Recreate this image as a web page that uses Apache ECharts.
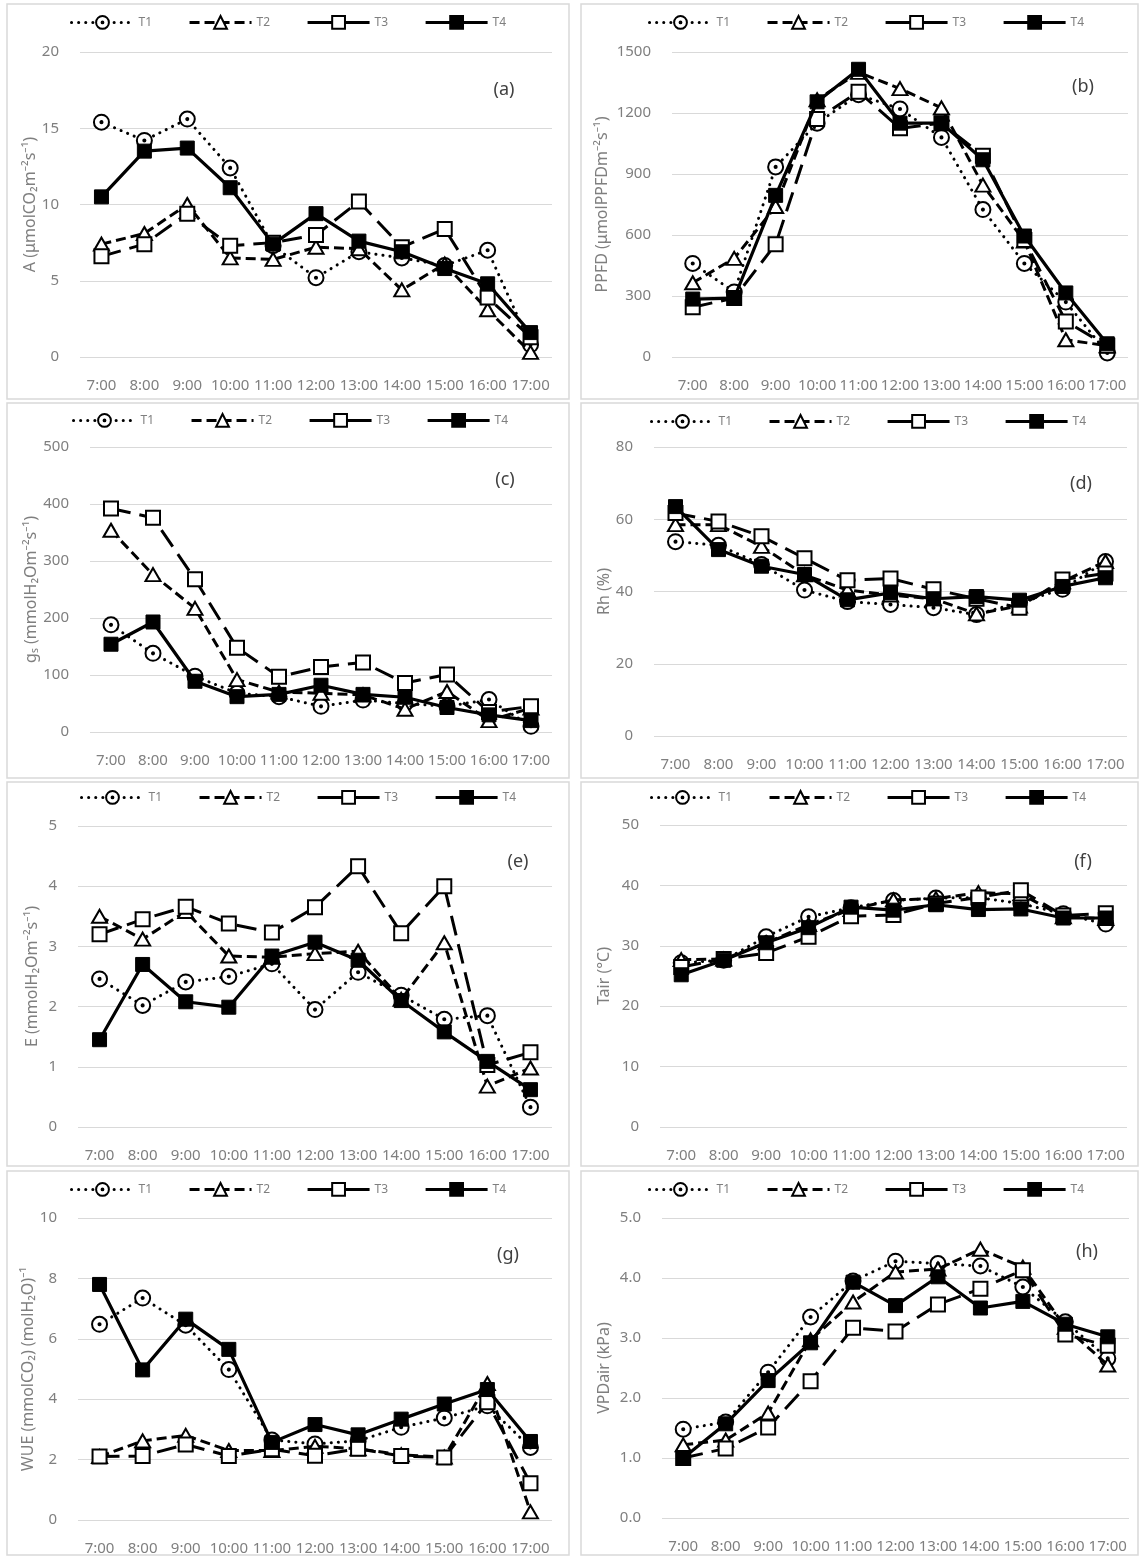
<!DOCTYPE html>
<html>
<head>
<meta charset="utf-8">
<title>Diurnal gas exchange and microclimate, T1–T4</title>
<script src="https://cdn.jsdelivr.net/npm/echarts@6.0.0/dist/echarts.min.js"></script>
<style>
  html, body { margin: 0; padding: 0; background: #fff; }
  #chart { width: 1141px; height: 1557px; }
</style>
</head>
<body>
<div id="chart"></div>
<script>
// Hours of measurement (x axis of every panel)
const hours = ['7:00', '8:00', '9:00', '10:00', '11:00', '12:00', '13:00', '14:00', '15:00', '16:00', '17:00'];
const treatments = ['T1', 'T2', 'T3', 'T4'];

// (a) Net photosynthesis A
const aT1 = [15.4, 14.2, 15.6, 12.4, 7.3, 5.2, 6.9, 6.5, 6.0, 7.0, 0.8];
const aT2 = [7.4, 8.1, 10.0, 6.5, 6.4, 7.2, 7.1, 4.4, 6.1, 3.1, 0.3];
const aT3 = [6.6, 7.4, 9.4, 7.3, 7.5, 8.0, 10.2, 7.2, 8.4, 3.9, 1.3];
const aT4 = [10.5, 13.5, 13.7, 11.1, 7.4, 9.4, 7.6, 6.9, 5.8, 4.8, 1.6];

// (b) PPFD
const bT1 = [460, 320, 935, 1150, 1290, 1220, 1080, 725, 460, 270, 20];
const bT2 = [365, 485, 740, 1265, 1400, 1320, 1225, 845, 570, 85, 55];
const bT3 = [245, 290, 555, 1170, 1305, 1125, 1150, 990, 575, 175, 55];
const bT4 = [285, 290, 795, 1255, 1415, 1150, 1150, 970, 595, 315, 65];

// (c) Stomatal conductance gs
const cT1 = [188, 138, 98, 68, 62, 45, 56, 50, 45, 57, 10];
const cT2 = [354, 276, 217, 92, 70, 68, 65, 40, 71, 20, 42];
const cT3 = [392, 376, 268, 148, 97, 114, 122, 86, 101, 35, 45];
const cT4 = [154, 193, 89, 62, 66, 82, 66, 61, 43, 30, 20];

// (d) Relative humidity
const dT1 = [53.8, 52.8, 47.5, 40.4, 37.2, 36.4, 35.5, 33.6, 37.0, 40.6, 48.3];
const dT2 = [58.5, 58.5, 52.5, 44.6, 40.4, 39.0, 38.0, 33.8, 36.0, 42.7, 48.3];
const dT3 = [61.7, 59.4, 55.3, 49.2, 43.1, 43.6, 40.6, 38.0, 35.5, 43.3, 45.0];
const dT4 = [63.5, 51.6, 47.0, 44.7, 37.7, 39.6, 38.0, 38.6, 37.6, 41.4, 43.8];

// (e) Transpiration E
const eT1 = [2.46, 2.02, 2.41, 2.50, 2.71, 1.95, 2.57, 2.19, 1.79, 1.85, 0.33];
const eT2 = [3.50, 3.12, 3.58, 2.84, 2.82, 2.88, 2.92, 2.12, 3.06, 0.68, 0.98];
const eT3 = [3.20, 3.45, 3.66, 3.38, 3.23, 3.65, 4.33, 3.22, 4.00, 1.03, 1.24];
const eT4 = [1.45, 2.70, 2.08, 1.99, 2.84, 3.07, 2.77, 2.10, 1.58, 1.09, 0.62];

// (f) Air temperature
const fT1 = [27.2, 27.6, 31.5, 34.8, 36.3, 37.5, 37.9, 38.0, 37.0, 35.3, 33.6];
const fT2 = [27.7, 27.8, 30.5, 33.5, 36.0, 37.6, 37.8, 38.8, 38.6, 34.8, 34.5];
const fT3 = [26.5, 27.8, 28.8, 31.5, 34.9, 35.1, 37.0, 38.0, 39.2, 35.0, 35.4];
const fT4 = [25.2, 27.6, 30.5, 33.0, 36.4, 35.9, 36.8, 36.0, 36.1, 34.6, 34.6];

// (g) Water use efficiency
const gT1 = [6.48, 7.35, 6.45, 4.98, 2.65, 2.52, 2.62, 3.07, 3.38, 3.78, 2.40];
const gT2 = [2.10, 2.62, 2.80, 2.30, 2.30, 2.44, 2.36, 2.16, 2.08, 4.52, 0.27];
const gT3 = [2.10, 2.12, 2.50, 2.12, 2.34, 2.13, 2.36, 2.12, 2.07, 3.90, 1.22];
const gT4 = [7.80, 4.97, 6.65, 5.65, 2.57, 3.16, 2.82, 3.34, 3.84, 4.32, 2.60];

// (h) Vapour pressure deficit of air
const hT1 = [1.48, 1.60, 2.43, 3.35, 3.95, 4.28, 4.24, 4.20, 3.85, 3.27, 2.66];
const hT2 = [1.22, 1.30, 1.75, 2.97, 3.60, 4.10, 4.15, 4.48, 4.18, 3.18, 2.55];
const hT3 = [1.00, 1.16, 1.51, 2.28, 3.17, 3.11, 3.56, 3.82, 4.13, 3.06, 2.87];
const hT4 = [1.00, 1.57, 2.29, 2.92, 3.93, 3.54, 4.02, 3.50, 3.61, 3.23, 3.02];

// y-axis scales: [min, max, interval]
const aTicks = [0, 20, 5];
const bTicks = [0, 1500, 300];
const cTicks = [0, 500, 100];
const dTicks = [0, 80, 20];
const eTicks = [0, 5, 1];
const fTicks = [0, 50, 10];
const gTicks = [0, 10, 2];
const hTicks = [0, 5, 1];

// Panel descriptors: letter, y title, series data, ticks and placement
const panels = [
  { tag: '(a)', name: 'A (μmolCO₂m⁻²s⁻¹)', data: [aT1, aT2, aT3, aT4], ticks: aTicks, dec: 0,
    box: [7, 4, 562, 395], grid: [80, 52, 472, 305], legend: [70, 23], nameGap: 41, tagPos: [504, 90] },
  { tag: '(b)', name: 'PPFD (μmolPPFDm⁻²s⁻¹)', data: [bT1, bT2, bT3, bT4], ticks: bTicks, dec: 0,
    box: [581, 4, 557, 395], grid: [672, 52, 456, 305], legend: [648, 23], nameGap: 62, tagPos: [1083, 87] },
  { tag: '(c)', name: 'gₛ (mmolH₂Om⁻²s⁻¹)', data: [cT1, cT2, cT3, cT4], ticks: cTicks, dec: 0,
    box: [7, 403, 562, 375], grid: [90, 447, 462, 285], legend: [72, 421], nameGap: 50, tagPos: [505, 480] },
  { tag: '(d)', name: 'Rh (%)', data: [dT1, dT2, dT3, dT4], ticks: dTicks, dec: 0,
    box: [581, 403, 557, 375], grid: [654, 447, 473, 289], legend: [650, 422], nameGap: 40, tagPos: [1081, 484] },
  { tag: '(e)', name: 'E (mmolH₂Om⁻²s⁻¹)', data: [eT1, eT2, eT3, eT4], ticks: eTicks, dec: 0,
    box: [7, 782, 562, 384], grid: [78, 826, 474, 301], legend: [80, 798], nameGap: 38, tagPos: [518, 862] },
  { tag: '(f)', name: 'Tair (°C)', data: [fT1, fT2, fT3, fT4], ticks: fTicks, dec: 0,
    box: [581, 782, 557, 384], grid: [660, 825, 467, 302], legend: [650, 798], nameGap: 48, tagPos: [1083, 862] },
  { tag: '(g)', name: 'WUE (mmolCO₂) (molH₂O)⁻¹', data: [gT1, gT2, gT3, gT4], ticks: gTicks, dec: 0,
    box: [7, 1171, 562, 384], grid: [78, 1218, 474, 302], legend: [70, 1190], nameGap: 37, tagPos: [508, 1255] },
  { tag: '(h)', name: 'VPDair (kPa)', data: [hT1, hT2, hT3, hT4], ticks: hTicks, dec: 1,
    box: [581, 1171, 557, 384], grid: [662, 1218, 467, 300], legend: [648, 1190], nameGap: 50, tagPos: [1087, 1252] }
];

// Open circle with a centre dot (the inner tiny ring is stroked into a dot)
const ringDot = 'path://M0 10A10 10 0 1 1 20 10A10 10 0 1 1 0 10Z M8.6 10A1.4 1.4 0 1 1 11.4 10A1.4 1.4 0 1 1 8.6 10Z';

const seriesLook = {
  T1: { symbol: ringDot, symbolSize: 15,
        lineStyle: { color: '#000', width: 3, type: [0.1, 7], cap: 'round' },
        itemStyle: { color: '#fff', borderColor: '#000', borderWidth: 2 } },
  T2: { symbol: 'triangle', symbolSize: [15, 13],
        lineStyle: { color: '#000', width: 3, type: [10, 5], cap: 'butt' },
        itemStyle: { color: '#fff', borderColor: '#000', borderWidth: 2 } },
  T3: { symbol: 'rect', symbolSize: 14,
        lineStyle: { color: '#000', width: 3, type: [20, 9], cap: 'butt' },
        itemStyle: { color: '#fff', borderColor: '#000', borderWidth: 2 } },
  T4: { symbol: 'rect', symbolSize: 14,
        lineStyle: { color: '#000', width: 3.2, type: 'solid' },
        itemStyle: { color: '#000', borderColor: '#000', borderWidth: 1 } }
};

const labelColor = '#7f7f7f';
const fontFamily = '"Noto Sans", "DejaVu Sans", sans-serif';

const grids = [], xAxes = [], yAxes = [], legends = [], series = [], graphics = [];

panels.forEach((p, i) => {
  grids.push({ left: p.grid[0], top: p.grid[1], width: p.grid[2], height: p.grid[3],
               containLabel: false, outerBoundsMode: 'none' });
  xAxes.push({
    type: 'category', gridIndex: i, data: hours, boundaryGap: true,
    axisLine: { show: false }, axisTick: { show: false }, splitLine: { show: false },
    axisLabel: { interval: 0, color: labelColor, fontSize: 15, fontFamily, margin: 21, hideOverlap: false }
  });
  yAxes.push({
    type: 'value', gridIndex: i, min: p.ticks[0], max: p.ticks[1], interval: p.ticks[2],
    name: p.name, nameLocation: 'middle', nameGap: p.nameGap,
    nameTextStyle: { color: labelColor, fontSize: 16, fontFamily },
    axisLine: { show: false }, axisTick: { show: false },
    splitLine: { show: true, lineStyle: { color: '#d9d9d9', width: 1 } },
    axisLabel: { color: labelColor, fontSize: 15, fontFamily, margin: 21,
                 formatter: v => v.toFixed(p.dec) }
  });
  legends.push({
    left: p.legend[0], top: p.legend[1] - 8, orient: 'horizontal', padding: 0,
    itemWidth: 62, itemHeight: 16, itemGap: 36,
    lineStyle: { width: 3 },
    textStyle: { color: labelColor, fontSize: 12, fontFamily },
    selectedMode: false,
    data: [
      { name: 'T1' }, { name: 'T2' },
      { name: 'T3', lineStyle: { type: 'solid' } },
      { name: 'T4' }
    ]
  });
  treatments.forEach((t, k) => {
    const look = seriesLook[t];
    series.push({
      name: t, type: 'line', xAxisIndex: i, yAxisIndex: i,
      data: p.data[k],
      symbol: look.symbol, symbolSize: look.symbolSize,
      showSymbol: true, showAllSymbol: true,
      lineStyle: look.lineStyle, itemStyle: look.itemStyle,
      emphasis: { disabled: true }, silent: true, z: 2 + k
    });
  });
  graphics.push({
    type: 'rect', silent: true, z: -1,
    shape: { x: p.box[0], y: p.box[1], width: p.box[2], height: p.box[3] },
    style: { fill: 'none', stroke: '#d9d9d9', lineWidth: 1.5 }
  });
  graphics.push({
    type: 'text', silent: true, x: p.tagPos[0], y: p.tagPos[1],
    style: { text: p.tag, fill: '#404040', fontSize: 18, fontFamily,
             textAlign: 'center', textVerticalAlign: 'middle' }
  });
});

const chart = echarts.init(document.getElementById('chart'), null, { renderer: 'canvas' });
chart.setOption({
  backgroundColor: '#fff',
  animation: false,
  textStyle: { fontFamily },
  grid: grids, xAxis: xAxes, yAxis: yAxes, legend: legends,
  series: series, graphic: graphics
});
</script>
</body>
</html>
